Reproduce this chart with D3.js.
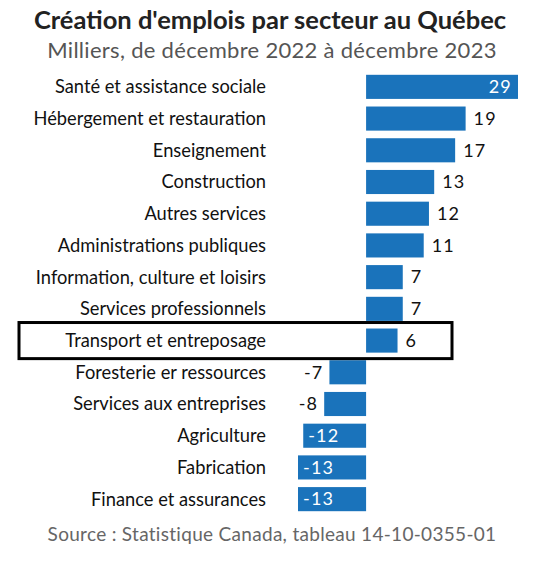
<!DOCTYPE html>
<html><head><meta charset="utf-8">
<script src="https://cdn.jsdelivr.net/npm/d3@7"></script>
<style>body{margin:0;background:#fff}text{font-family:Lato,"Open Sans",sans-serif}</style>
</head><body>
<svg id="c" width="541" height="561"></svg>
<script>
const sectors = ["Santé et assistance sociale","Hébergement et restauration","Enseignement","Construction","Autres services","Administrations publiques","Information, culture et loisirs","Services professionnels","Transport et entreposage","Foresterie er ressources","Services aux entreprises","Agriculture","Fabrication","Finance et assurances"];
const values = [29,19,17,13,12,11,7,7,6,-7,-8,-12,-13,-13];
const highlight = "Transport et entreposage";

const svg = d3.select("#c");
const x = d3.scaleLinear().domain([-13, 29]).range([298, 518]);
const y = d3.scaleBand().domain(sectors).range([71, 515]).paddingInner(0.24).paddingOuter(0.12);

svg.append("text").attr("x", 270).attr("y", 29).attr("text-anchor", "middle")
  .attr("font-size", 25.5).attr("font-weight", 700).attr("fill", "#222")
  .text("Création d'emplois par secteur au Québec");
svg.append("text").attr("x", 272).attr("y", 58).attr("text-anchor", "middle")
  .attr("font-size", 22).attr("fill", "#555").attr("letter-spacing", 0.3)
  .text("Milliers, de décembre 2022 à décembre 2023");

const row = svg.selectAll("g.row").data(sectors).join("g").attr("class", "row");
row.append("rect")
  .attr("x", (d, i) => x(Math.min(0, values[i])))
  .attr("width", (d, i) => Math.abs(x(values[i]) - x(0)))
  .attr("y", d => y(d)).attr("height", y.bandwidth())
  .attr("fill", "#1a73bb");
row.append("text").attr("x", 266).attr("y", d => y(d) + y.bandwidth() / 2)
  .attr("dy", "0.35em").attr("text-anchor", "end").attr("font-size", 18.3).attr("fill", "#111")
  .text(d => d);
row.append("text")
  .attr("x", (d, i) => {
    const v = values[i];
    if (v >= 20) return x(v) - 6;
    if (v > 0) return x(v) + 8;
    if (v > -10) return x(v) - 6;
    return x(v) + 5;
  })
  .attr("text-anchor", (d, i) => {
    const v = values[i];
    if (v >= 20) return "end";
    if (v > 0) return "start";
    if (v > -10) return "end";
    return "start";
  })
  .attr("y", d => y(d) + y.bandwidth() / 2).attr("dy", "0.35em")
  .attr("font-size", 18).attr("letter-spacing", 1.2)
  .attr("fill", (d, i) => (values[i] >= 20 || values[i] <= -10) ? "#fff" : "#111")
  .text((d, i) => values[i]);

svg.append("rect").attr("x", 19).attr("y", y(highlight) - 6)
  .attr("width", 433).attr("height", y.bandwidth() + 12)
  .attr("fill", "none").attr("stroke", "#000").attr("stroke-width", 3);

svg.append("text").attr("x", 272).attr("y", 541).attr("text-anchor", "middle")
  .attr("font-size", 19).attr("fill", "#666").attr("letter-spacing", 0.3)
  .text("Source : Statistique Canada, tableau 14-10-0355-01");
</script>
</body></html>
